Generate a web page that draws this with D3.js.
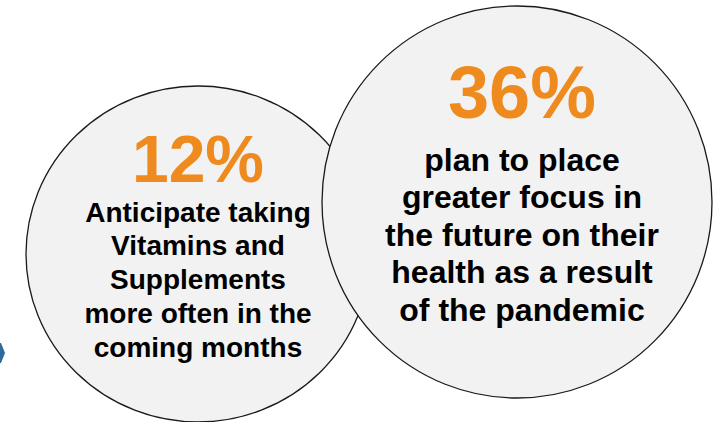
<!DOCTYPE html>
<html>
<head>
<meta charset="utf-8">
<script src="https://cdn.jsdelivr.net/npm/d3@7"></script>
<style>
  html, body { margin: 0; padding: 0; background: #ffffff; }
  svg { display: block; }
  text { font-family: "Liberation Sans", Arial, Helvetica, sans-serif; font-weight: bold; }
</style>
</head>
<body>
<svg id="chart" width="723" height="422"></svg>
<script>
// Headline percentages shown in each bubble
const statValues = [12, 36];
// Caption lines under each percentage
const captionLines = [
  ["Anticipate taking", "Vitamins and", "Supplements", "more often in the", "coming months"],
  ["plan to place", "greater focus in", "the future on their", "health as a result", "of the pandemic"]
];

// Bubble geometry (left bubble first, right bubble drawn on top)
const bubbles = [
  { cx: 198, cy: 254, rx: 172, ry: 168, statY: 182, statSize: 66, textY: 221.5, lineGap: 33.9, textSize: 28, textX: 198 },
  { cx: 517, cy: 202, rx: 195, ry: 196, statY: 118, statSize: 74, textY: 170.5, lineGap: 37.6, textSize: 32, textX: 522 }
];

const svg = d3.select("#chart");

// Partial blue chevron peeking in at the left edge
svg.append("path")
  .attr("d", d3.line()([[-10, 343], [1, 343], [5, 353], [1, 363], [-10, 363]]) + "Z")
  .attr("fill", "#2e6a9c");

const fmt = d => d3.format("d")(d) + "%";

const groups = svg.selectAll("g.bubble")
  .data(statValues.map((v, i) => ({ value: v, lines: captionLines[i], geo: bubbles[i] })))
  .join("g")
  .attr("class", "bubble");

groups.append("ellipse")
  .attr("cx", d => d.geo.cx)
  .attr("cy", d => d.geo.cy)
  .attr("rx", d => d.geo.rx)
  .attr("ry", d => d.geo.ry)
  .attr("fill", "#f2f2f2")
  .attr("stroke", "#1a1a1a")
  .attr("stroke-width", 1.3);

groups.append("text")
  .attr("x", d => d.geo.textX)
  .attr("y", d => d.geo.statY)
  .attr("text-anchor", "middle")
  .attr("font-size", d => d.geo.statSize)
  .attr("fill", "#ef8a1f")
  .text(d => fmt(d.value));

groups.each(function (d) {
  d3.select(this).selectAll("text.caption")
    .data(d.lines)
    .join("text")
    .attr("class", "caption")
    .attr("x", d.geo.textX)
    .attr("y", (line, i) => d.geo.textY + i * d.geo.lineGap)
    .attr("text-anchor", "middle")
    .attr("font-size", d.geo.textSize)
    .attr("fill", "#000000")
    .text(line => line);
});
</script>
</body>
</html>
